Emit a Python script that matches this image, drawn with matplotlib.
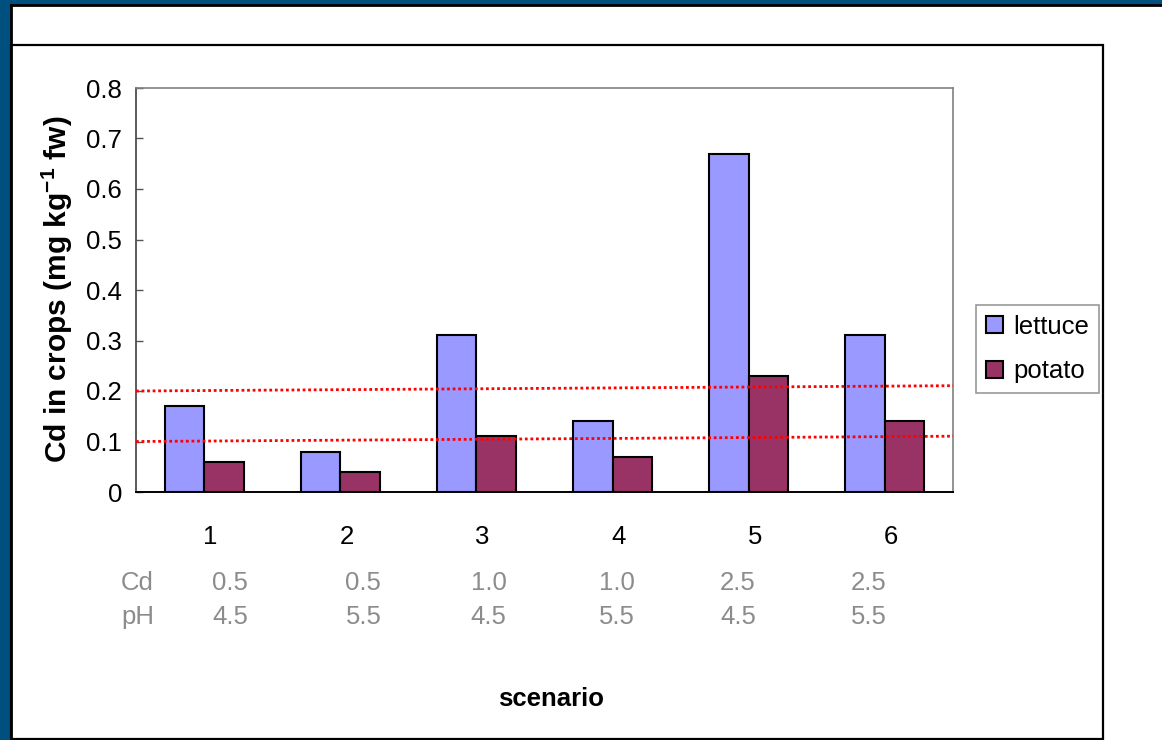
import numpy as np
import matplotlib
matplotlib.use("Agg")
import matplotlib.pyplot as plt
from matplotlib.patches import Rectangle
from matplotlib.lines import Line2D

plt.rcParams['font.family'] = ['Liberation Sans', 'DejaVu Sans']
plt.rcParams['mathtext.fontset'] = 'custom'
plt.rcParams['mathtext.rm'] = 'Liberation Sans'
plt.rcParams['mathtext.bf'] = 'Liberation Sans:bold'

# Cd uptake per scenario
scenarios = ['1', '2', '3', '4', '5', '6']
lettuce = [0.17, 0.08, 0.31, 0.14, 0.67, 0.31]
potato = [0.06, 0.04, 0.11, 0.07, 0.23, 0.14]
soil_cd = ['0.5', '0.5', '1.0', '1.0', '2.5', '2.5']
soil_ph = ['4.5', '5.5', '4.5', '5.5', '4.5', '5.5']
limits = [0.1, 0.2]

W, H = 1162, 740
FS = 18.5
GREY_TXT = '#8c8c8c'


def fx(px):
    return px / W


def fy(py):
    return 1 - py / H


fig = plt.figure(figsize=(W / 100, H / 100), dpi=100, facecolor='white')

# window frame around the chart
fig.add_artist(Rectangle((0, fy(5)), 1, 1 - fy(5), transform=fig.transFigure,
                         facecolor='#00507f', edgecolor='none'))
fig.add_artist(Rectangle((0, 0), fx(11), 1, transform=fig.transFigure,
                         facecolor='#00507f', edgecolor='none'))
fig.add_artist(Line2D([fx(11), 1], [fy(5), fy(5)], transform=fig.transFigure,
                      color='black', lw=2))
fig.add_artist(Line2D([fx(11), fx(11)], [0, fy(5)], transform=fig.transFigure,
                      color='black', lw=2))
fig.add_artist(Rectangle((fx(11), fy(739)), fx(1103) - fx(11), fy(45) - fy(739),
                         transform=fig.transFigure, facecolor='none',
                         edgecolor='black', lw=1.6))

ax = fig.add_axes([fx(136), fy(492), fx(953) - fx(136), fy(88) - fy(492)])

x = np.arange(len(scenarios))
bw = 0.29
ax.bar(x - bw / 2, lettuce, bw, color='#9999ff', edgecolor='black', lw=1.5,
       label='lettuce', zorder=2)
ax.bar(x + bw / 2, potato, bw, color='#993366', edgecolor='black', lw=1.5,
       label='potato', zorder=2)

# threshold lines (slightly tilted as hand drawn)
for lim in limits:
    ax.plot([-0.5, 5.5], [lim, lim + 0.0105], color='red', lw=2.0,
            dashes=(1.0, 1.0), zorder=3)

ax.set_xlim(-0.5, 5.5)
ax.set_ylim(0, 0.8)
ax.set_yticks(np.arange(0, 0.81, 0.1))
ax.set_yticklabels(['0' if v == 0 else f'{v:.1f}' for v in np.arange(0, 0.81, 0.1)])
ax.set_xticks(x + 0.045)
ax.set_xticklabels(scenarios)
ax.tick_params(axis='y', direction='in', length=5, width=1, color='#555555',
               pad=10, labelsize=FS)
ax.tick_params(axis='x', length=0, pad=24, labelsize=FS)

for s in ['top', 'right']:
    ax.spines[s].set_color('#808080')
    ax.spines[s].set_linewidth(1.2)
ax.spines['left'].set_color('#404040')
ax.spines['left'].set_linewidth(1.2)
ax.spines['bottom'].set_color('black')
ax.spines['bottom'].set_linewidth(1.4)

# soil Cd and pH rows under the scenario numbers
label_x = [0.19, 1.17, 2.09, 3.03, 3.92, 4.88]
tr = ax.get_xaxis_transform()
ax.text(-0.49, -0.225, 'Cd', transform=tr, ha='center', va='center',
        color=GREY_TXT, fontsize=FS)
ax.text(-0.49, -0.309, 'pH', transform=tr, ha='center', va='center',
        color=GREY_TXT, fontsize=FS)
for xi, c, p in zip(label_x, soil_cd, soil_ph):
    ax.text(xi, -0.225, c, transform=tr, ha='center', va='center',
            color=GREY_TXT, fontsize=FS)
    ax.text(xi, -0.309, p, transform=tr, ha='center', va='center',
            color=GREY_TXT, fontsize=FS)

fig.text(fx(551), fy(699), 'scenario', ha='center', va='center',
         fontsize=FS, fontweight='bold')
fig.text(fx(57), fy(289), r'Cd in crops (mg kg$^{\mathbf{-1}}$ fw)',
         rotation=90, ha='center', va='center', fontsize=21.5, fontweight='bold')

leg = fig.legend(loc='upper left', bbox_to_anchor=(fx(976), fy(305)),
                 borderaxespad=0, fontsize=FS, frameon=True, fancybox=False,
                 handlelength=0.66, handleheight=0.66, handletextpad=0.4,
                 borderpad=0.38, labelspacing=0.8)
leg.get_frame().set_edgecolor('#808080')
leg.get_frame().set_linewidth(1.2)

fig.savefig('out.png', dpi=100, facecolor='white')
